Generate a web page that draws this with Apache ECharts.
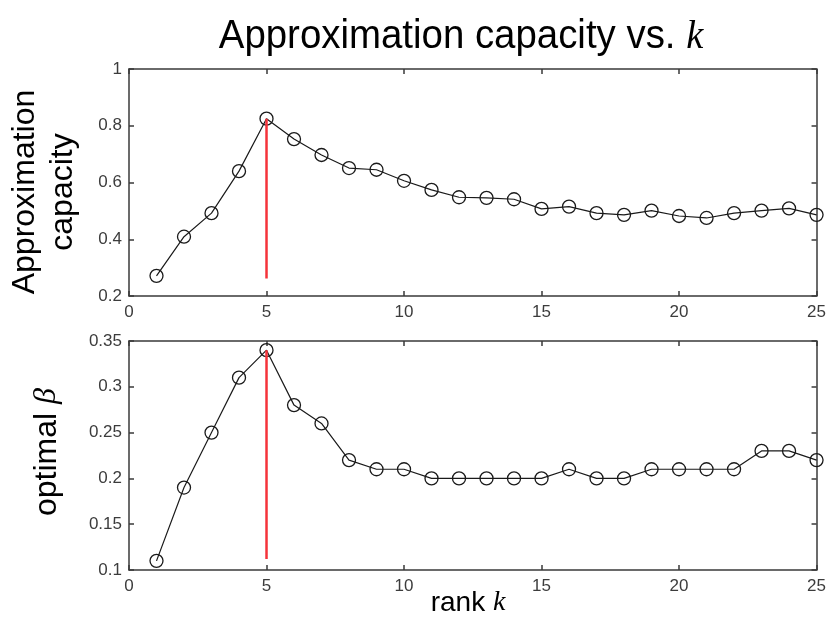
<!DOCTYPE html>
<html>
<head>
<meta charset="utf-8">
<script src="https://cdn.jsdelivr.net/npm/echarts@6/dist/echarts.min.js"></script>
<style>html,body{margin:0;padding:0;background:#fff;}#c{width:829px;height:619px;}</style>
</head>
<body>
<div id="c"></div>
<script>
// ---- data ----
var ranks = [1,2,3,4,5,6,7,8,9,10,11,12,13,14,15,16,17,18,19,20,21,22,23,24,25];
var capacity = [0.271,0.409,0.492,0.640,0.825,0.753,0.697,0.651,0.645,0.606,0.574,0.548,0.546,0.541,0.507,0.515,0.492,0.486,0.501,0.482,0.475,0.492,0.501,0.509,0.486];
var beta = [0.11,0.19,0.25,0.31,0.34,0.28,0.26,0.22,0.21,0.21,0.20,0.20,0.20,0.20,0.20,0.21,0.20,0.20,0.21,0.21,0.21,0.21,0.23,0.23,0.22];
var peakRank = 5;
var capacityMarker = [0.262, 0.825];
var betaMarker = [0.112, 0.34];

var chart = echarts.init(document.getElementById('c'));
var frame = '#3a3a3a';
var labelStyle = {color:'#3c3c3c', fontSize:17, fontFamily:'Liberation Sans, Arial, sans-serif'};

function xAx(gi, pos, show){
  return {type:'value', gridIndex:gi, position:pos, min:0, max:25, interval:5,
    axisLine:{show:true, onZero:false, lineStyle:{color:frame, width:1.5}},
    axisTick:{show:true, inside:true, length:5, lineStyle:{color:frame, width:1.5}},
    axisLabel:Object.assign({show:show, margin:8}, labelStyle),
    splitLine:{show:false}};
}
function yAx(gi, pos, show, mn, mx, iv){
  return {type:'value', gridIndex:gi, position:pos, min:mn, max:mx, interval:iv,
    axisLine:{show:true, onZero:false, lineStyle:{color:frame, width:1.5}},
    axisTick:{show:true, inside:true, length:5, lineStyle:{color:frame, width:1.5}},
    axisLabel:Object.assign({show:show, margin:7}, labelStyle),
    splitLine:{show:false}};
}
function pts(ys){ return ranks.map(function(k,i){return [k, ys[i]];}); }
function dataSeries(xi, yi, ys){
  return {type:'line', xAxisIndex:xi, yAxisIndex:yi, data:pts(ys),
    symbol:'circle', symbolSize:13, z:3,
    lineStyle:{color:'#1a1a1a', width:1.2},
    itemStyle:{color:'rgba(255,255,255,0)', borderColor:'#1a1a1a', borderWidth:1.3}};
}
function redSeries(xi, yi, range){
  return {type:'line', xAxisIndex:xi, yAxisIndex:yi, z:4,
    data:[[peakRank, range[0]],[peakRank, range[1]]],
    symbol:'none', lineStyle:{color:'#f5333a', width:2.5}};
}

chart.setOption({
  animation:false,
  backgroundColor:'#fff',
  grid:[
    {left:129, top:69, width:690, height:227},
    {left:129, top:341, width:690, height:229}
  ],
  xAxis:[xAx(0,'bottom',true), xAx(0,'top',false), xAx(1,'bottom',true), xAx(1,'top',false)],
  yAxis:[yAx(0,'left',true,0.2,1,0.2), yAx(0,'right',false,0.2,1,0.2),
         yAx(1,'left',true,0.1,0.35,0.05), yAx(1,'right',false,0.1,0.35,0.05)],
  series:[
    dataSeries(0,0,capacity), redSeries(0,0,capacityMarker),
    dataSeries(2,2,beta), redSeries(2,2,betaMarker)
  ],
  graphic:[
    {type:'text', x:461, y:37, scaleX:0.96, z:10, style:{
      text:'{a|Approximation capacity vs. }{b|k}',
      rich:{a:{fontSize:40, fontFamily:'Liberation Sans, Arial, sans-serif', fill:'#000'},
            b:{fontSize:40, fontFamily:'Liberation Serif, serif', fontStyle:'italic', fill:'#000'}},
      align:'center', verticalAlign:'middle'}},
    {type:'text', x:44, y:192, rotation:Math.PI/2, z:10, style:{
      text:'Approximation\ncapacity', fontSize:32, lineHeight:38, fontFamily:'Liberation Sans, Arial, sans-serif',
      fill:'#000', align:'center', verticalAlign:'middle'}},
    {type:'text', x:47, y:452, rotation:Math.PI/2, z:10, style:{
      text:'{a|optimal }{b|β}',
      rich:{a:{fontSize:32, fontFamily:'Liberation Sans, Arial, sans-serif', fill:'#000'},
            b:{fontSize:32, fontFamily:'Liberation Serif, serif', fontStyle:'italic', fill:'#000'}},
      align:'center', verticalAlign:'middle'}},
    {type:'text', x:468, y:603, z:10, style:{
      text:'{a|rank }{b|k}',
      rich:{a:{fontSize:28, fontFamily:'Liberation Sans, Arial, sans-serif', fill:'#000'},
            b:{fontSize:28, fontFamily:'Liberation Serif, serif', fontStyle:'italic', fill:'#000'}},
      align:'center', verticalAlign:'middle'}}
  ]
});
</script>
</body>
</html>
